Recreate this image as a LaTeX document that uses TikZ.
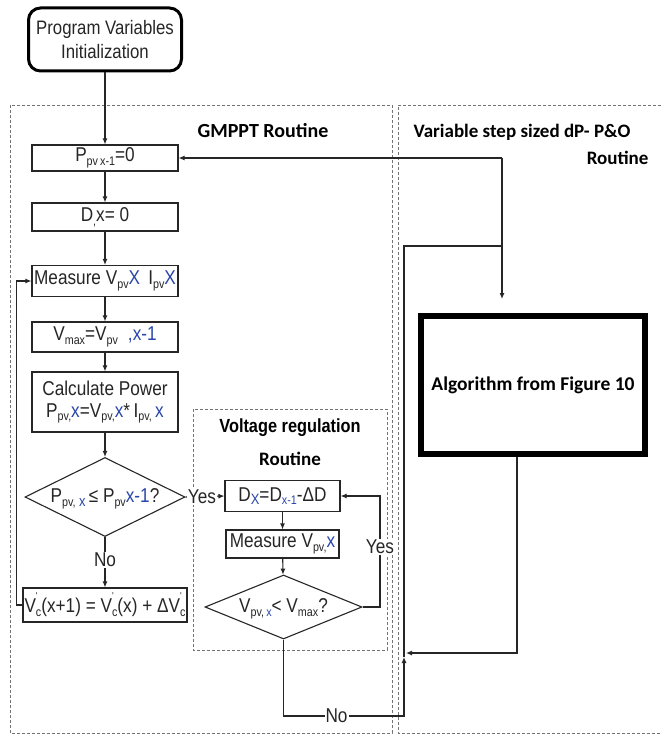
\documentclass[tikz,border=0pt]{standalone}
\usepackage{fontspec}
\setmainfont{Liberation Sans}
\newfontfamily\narrowf[FakeStretch=0.86]{Liberation Sans}
\newfontfamily\calf{Carlito}
\usetikzlibrary{shapes.geometric,arrows.meta}
\definecolor{bluex}{RGB}{40,70,170}
\newcommand{\lowr}[1]{\raisebox{-0.35ex}{\fontsize{12.5}{12.5}\selectfont #1}}
\newcommand{\bx}[1]{\textcolor{bluex}{#1}}
\newcommand{\Vcp}{V\rlap{\raisebox{1.25ex}{\fontsize{10}{10}\selectfont '}}\lowr{c}}
\newcommand{\fixtext}[1]{\makebox[0pt]{\raisebox{-0.55ex}[0pt][0pt]{#1}}}
\tikzset{
  fbox/.style={draw=black!85, line width=1.1pt, minimum width=146pt, minimum height=28pt,
    inner sep=1pt, font=\narrowf\fontsize{20}{22}\selectfont, text=black!85, align=center},
  dia/.style={diamond, draw=black!85, line width=1.1pt, inner sep=0pt,
    font=\narrowf\fontsize{20}{22}\selectfont, text=black!85},
  arr/.style={-{Latex[length=6pt,width=5pt]}, line width=1.1pt, draw=black!85},
  plain/.style={line width=1.1pt, draw=black!85},
  outer/.style={draw=black!55, densely dashed, line width=0.9pt},
  ttl/.style={font=\calf\bfseries\fontsize{19}{22}\selectfont, text=black},
  lbl/.style={font=\narrowf\fontsize{20}{22}\selectfont, text=black!85, fill=white, inner sep=1pt}
}
\begin{document}
\begin{tikzpicture}[x=1pt,y=-1pt]
\useasboundingbox[fill=white] (0,0) rectangle (662,735);
% outer routine frames
\draw[outer] (10,105) rectangle (392,733);
\draw[outer] (661,105) -- (398,105) -- (398,733) -- (661,733);
\draw[outer] (193,409) rectangle (387,650);
% titles
\node[ttl, font=\calf\bfseries\fontsize{20}{22}\selectfont] (tg) at (263,131) {GMPPT Routine};
\node[ttl] (tv1) at (522,132) {Variable step sized dP- P\&O};
\node[ttl, anchor=east] (tv2) at (652,158) {Routine};
\node[ttl, font=\narrowf\bfseries\fontsize{19}{22}\selectfont] (tr1) at (290,428) {Voltage regulation};
\node[ttl] (tr2) at (290,459) {Routine};
% start
\node[draw=black, line width=3pt, rounded corners=12pt, minimum width=153pt, minimum height=63pt,
  align=center, font=\narrowf\fontsize{19.5}{24}\selectfont, text=black!85] (start) at (105,39.5)
  {Program Variables\\Initialization};
% GMPPT column
\node[fbox, minimum height=26pt] (ppv) at (105,158) {P\lowr{pv\,x-1}=0};
\node[fbox] (dx) at (105,217) {D\lowr{,}x= 0};
\node[fbox, minimum height=31pt] (meas) at (105,281) {Measure V\lowr{pv}\bx{X}\, I\lowr{pv}\bx{X}};
\node[fbox, minimum height=30pt] (vmax) at (105,337) {V\lowr{max}=V\lowr{pv}\enspace\bx{,x-1}};
\node[fbox, minimum height=60pt] (calc) at (105,402) {Calculate Power\\P\lowr{pv,}\bx{x}=V\lowr{pv,}\bx{x}*\,I\lowr{pv,}\,\bx{x}};
\node[dia, minimum width=160pt, minimum height=79pt] (d1) at (105,497)
  {\fixtext{P\lowr{pv,}\,\bx{\lowr{\fontsize{15}{15}\selectfont x}}\,≤ P\lowr{pv}\bx{x-1}?}};
\node[fbox, minimum width=164pt, minimum height=34pt] (vc) at (105,605) {\Vcp(x+1) = \Vcp(x) + Δ\Vcp};
% Voltage regulation
\node[fbox, minimum width=115pt, minimum height=31pt] (dbox) at (282.5,496) {D\lowr{\bx{\fontsize{15}{15}\selectfont X}}=D\lowr{\bx{x-1}}-ΔD};
\node[fbox, minimum width=113pt, minimum height=28pt] (mv) at (282.5,544) {Measure V\lowr{pv,}\bx{x}};
\node[dia, minimum width=157pt, minimum height=64pt] (d2) at (283.5,607)
  {\fixtext{V\lowr{pv,\,\bx{x}}< V\lowr{max}?}};
% Algorithm
\node[draw=black, line width=6pt, minimum width=224pt, minimum height=138pt,
  font=\calf\bfseries\fontsize{19.5}{22}\selectfont] (alg) at (533,385) {Algorithm from Figure 10};
% coordinates
\coordinate (c2) at (404,716);
\coordinate (c3) at (404,657);
\coordinate (c4) at (404,246);
\coordinate (c5) at (502,246);
\coordinate (c6) at (502,158);
\coordinate (c7) at (502,299);
\coordinate (c8) at (517,653);
\coordinate (c9) at (406,653);
\coordinate (yr) at (380,607);
% connectors
\draw[arr] (start) -- (ppv);
\draw[arr] (ppv) -- (dx);
\draw[arr] (dx) -- (meas);
\draw[arr] (meas) -- (vmax);
\draw[arr] (vmax) -- (calc);
\draw[arr] (calc) -- (d1);
\draw[arr] (d1) -- node[lbl, pos=0.45] {No} (vc);
\draw[arr] (vc.west) -- ++(-6,0) |- (meas.west);
\draw[arr] (d1.east) -- node[lbl, pos=0.42] {Yes} (dbox.west);
\draw[arr] (dbox) -- (mv);
\draw[arr] (mv) -- (d2);
\draw[arr] (d2.east) -- (yr) |- node[lbl, pos=0.27] {Yes} (dbox.east);
\draw[arr] (d2.south) |- node[lbl, pos=0.72] {No} (c2) -- (c3);
\draw[plain] (c3) -- (c4) -- (c5);
\draw[arr] (c6) -- (ppv.east);
\draw[arr] (c6) -- (c7);
\draw[arr] (alg.south -| c8) -- (c8) -- (c9);
\end{tikzpicture}
\end{document}
